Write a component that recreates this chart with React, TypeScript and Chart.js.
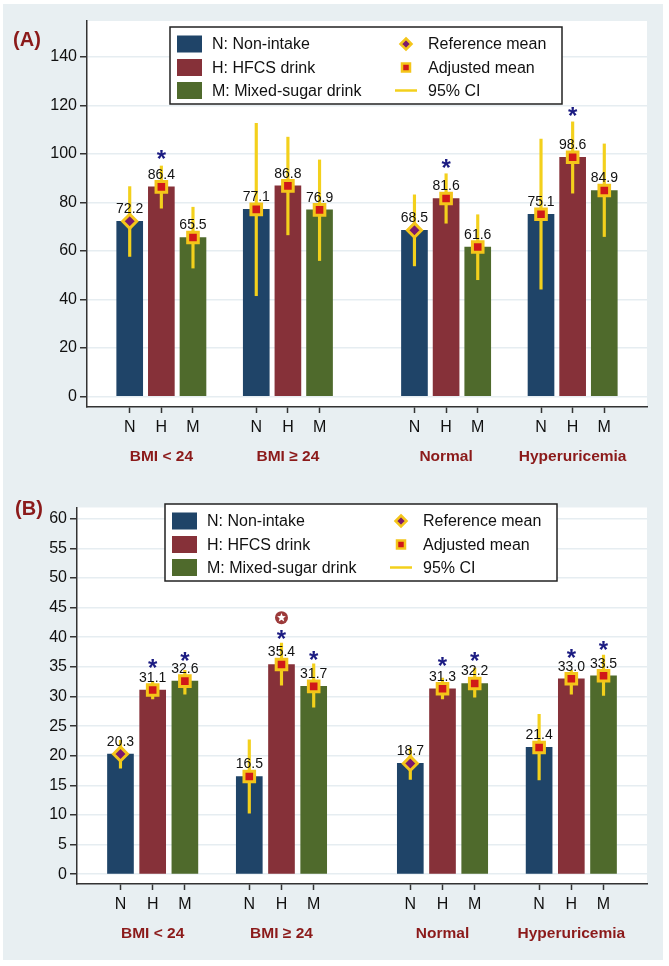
import React, { useEffect, useRef } from "react";
import { Chart, registerables } from "chart.js";

Chart.register(...registerables);
Chart.defaults.font.family = "'Liberation Sans', Arial, sans-serif";

// ---------- data ----------
const groups = ["BMI < 24", "BMI \u2265 24", "Normal", "Hyperuricemia"];
const drinkCodes = ["N", "H", "M"];
const drinkNames = ["N: Non-intake", "H: HFCS drink", "M: Mixed-sugar drink"];
const markerNames = ["Reference mean", "Adjusted mean", "95% CI"];
const groupCenters = [2, 6, 11, 15];
const refMeanGroups = [0, 2]; // groups whose N bar shows the reference mean

// Panel A
const meanA_N = [72.2, 77.1, 68.5, 75.1];
const meanA_H = [86.4, 86.8, 81.6, 98.6];
const meanA_M = [65.5, 76.9, 61.6, 84.9];
const loA_N = [57.7, 41.5, 53.8, 44.2];
const hiA_N = [86.5, 112.6, 83.1, 106.1];
const loA_H = [77.6, 66.6, 71.4, 83.8];
const hiA_H = [95.0, 106.9, 91.8, 113.2];
const loA_M = [52.9, 56.0, 48.1, 65.9];
const hiA_M = [78.0, 97.5, 74.9, 104.1];
const starA_H = [100.3, null, 96.4, 117.7];
const starA_M = [null, null, null, null];
const circleA_H = [null, null, null, null];
const yTicksA = [0, 20, 40, 60, 80, 100, 120, 140];

// Panel B
const meanB_N = [20.3, 16.5, 18.7, 21.4];
const meanB_H = [31.1, 35.4, 31.3, 33.0];
const meanB_M = [32.6, 31.7, 32.2, 33.5];
const loB_N = [17.9, 10.3, 16.0, 15.9];
const hiB_N = [22.6, 22.7, 21.3, 27.0];
const loB_H = [29.6, 31.9, 29.6, 30.4];
const hiB_H = [32.5, 39.0, 33.1, 34.4];
const loB_M = [30.4, 28.2, 29.9, 30.2];
const hiB_M = [34.4, 35.5, 34.8, 37.0];
const starB_H = [35.7, 40.6, 36.0, 37.5];
const starB_M = [37.0, 37.1, 36.9, 38.8];
const circleB_H = [null, 43.3, null, null];
const yTicksB = [0, 5, 10, 15, 20, 25, 30, 35, 40, 45, 50, 55, 60];

// ---------- styles ----------
const BAR_COLORS = ["#1f4468", "#863139", "#4f6a2c"];
const CI_COLOR = "#f3d01c";
const GOLD = "#f4c51a";
const PURPLE = "#7c1a6c";
const RED = "#d01818";
const TITLE_RED = "#8b1a1a";
const STAR_BLUE = "#1c1c82";
const FONT = "'Liberation Sans', Arial, sans-serif";

type Spec = {
  tag: string;
  means: number[][];
  lo: number[][];
  hi: number[][];
  starsH: (number | null)[];
  starsM: (number | null)[];
  circlesH: (number | null)[];
  yTicks: number[];
  yMin: number;
  yMax: number;
  width: number;
  height: number;
  padTop: number;
  padRight: number;
  yAxisWidth: number;
  xAxisHeight: number;
  legendLeft: number;
  legendTop: number;
  tagX: number;
  tagY: number;
};

const slotOf = (g: number, d: number) => groupCenters[g] + d - 1;

function drawDiamond(ctx: CanvasRenderingContext2D, x: number, y: number, r: number) {
  ctx.beginPath();
  ctx.moveTo(x, y - r);
  ctx.lineTo(x + r, y);
  ctx.lineTo(x, y + r);
  ctx.lineTo(x - r, y);
  ctx.closePath();
  ctx.fillStyle = PURPLE;
  ctx.fill();
  ctx.strokeStyle = GOLD;
  ctx.lineWidth = 2.5;
  ctx.stroke();
}

function drawSquare(ctx: CanvasRenderingContext2D, x: number, y: number, h: number) {
  ctx.fillStyle = RED;
  ctx.fillRect(x - h, y - h, 2 * h, 2 * h);
  ctx.strokeStyle = GOLD;
  ctx.lineWidth = 2.5;
  ctx.strokeRect(x - h, y - h, 2 * h, 2 * h);
}

function drawLegend(ctx: CanvasRenderingContext2D, L: number, T: number) {
  const W = 392;
  const H = 77;
  const rows = [17, 40.5, 63.5];
  ctx.save();
  ctx.fillStyle = "#ffffff";
  ctx.fillRect(L, T, W, H);
  ctx.strokeStyle = "#222222";
  ctx.lineWidth = 1.5;
  ctx.strokeRect(L, T, W, H);
  ctx.font = `16px ${FONT}`;
  ctx.textBaseline = "middle";
  ctx.textAlign = "left";
  for (let i = 0; i < 3; i++) {
    ctx.fillStyle = BAR_COLORS[i];
    ctx.fillRect(L + 7, T + rows[i] - 8.5, 25, 17);
    ctx.fillStyle = "#111111";
    ctx.fillText(drinkNames[i], L + 42, T + rows[i] + 1);
  }
  drawDiamond(ctx, L + 236, T + rows[0], 5.5);
  drawSquare(ctx, L + 236, T + rows[1], 4);
  ctx.strokeStyle = CI_COLOR;
  ctx.lineWidth = 2.5;
  ctx.beginPath();
  ctx.moveTo(L + 225, T + rows[2]);
  ctx.lineTo(L + 247, T + rows[2]);
  ctx.stroke();
  ctx.fillStyle = "#111111";
  for (let i = 0; i < 3; i++) {
    ctx.fillText(markerNames[i], L + 258, T + rows[i] + 1);
  }
  ctx.restore();
}

function makeOverlay(spec: Spec) {
  return {
    id: "overlay",
    beforeDraw(chart: any) {
      const { ctx, chartArea } = chart;
      ctx.save();
      ctx.fillStyle = "#ffffff";
      ctx.fillRect(chartArea.left, chartArea.top, chartArea.right - chartArea.left, chartArea.bottom - chartArea.top);
      ctx.restore();
    },
    afterDatasetsDraw(chart: any) {
      const { ctx } = chart;
      const xs = chart.scales.x;
      const ys = chart.scales.y;
      ctx.save();
      // value labels
      ctx.font = `14px ${FONT}`;
      ctx.fillStyle = "#111111";
      ctx.textAlign = "center";
      ctx.textBaseline = "middle";
      for (let g = 0; g < groups.length; g++) {
        for (let d = 0; d < 3; d++) {
          const v = spec.means[d][g];
          ctx.fillText(v.toFixed(1), xs.getPixelForValue(slotOf(g, d)), ys.getPixelForValue(v) - 12);
        }
      }
      // significance stars
      ctx.font = `bold 24px ${FONT}`;
      ctx.fillStyle = STAR_BLUE;
      ctx.textBaseline = "alphabetic";
      const starSets: [number, (number | null)[]][] = [
        [1, spec.starsH],
        [2, spec.starsM],
      ];
      for (const [d, arr] of starSets) {
        arr.forEach((v, g) => {
          if (v == null) return;
          ctx.fillText("*", xs.getPixelForValue(slotOf(g, d)), ys.getPixelForValue(v) + 13.5);
        });
      }
      // circled stars
      spec.circlesH.forEach((v, g) => {
        if (v == null) return;
        const cx = xs.getPixelForValue(slotOf(g, 1));
        const cy = ys.getPixelForValue(v);
        ctx.beginPath();
        ctx.arc(cx, cy, 6.5, 0, Math.PI * 2);
        ctx.fillStyle = "#9c3a3a";
        ctx.fill();
        ctx.beginPath();
        for (let k = 0; k < 10; k++) {
          const r = k % 2 === 0 ? 4.6 : 2.0;
          const a = -Math.PI / 2 + (k * Math.PI) / 5;
          const px = cx + r * Math.cos(a);
          const py = cy + r * Math.sin(a);
          if (k === 0) ctx.moveTo(px, py);
          else ctx.lineTo(px, py);
        }
        ctx.closePath();
        ctx.fillStyle = "#ffffff";
        ctx.fill();
      });
      ctx.restore();
    },
    afterDraw(chart: any) {
      const { ctx, chartArea } = chart;
      const xs = chart.scales.x;
      ctx.save();
      // group labels
      ctx.font = `bold 15.5px ${FONT}`;
      ctx.fillStyle = TITLE_RED;
      ctx.textAlign = "center";
      ctx.textBaseline = "middle";
      groups.forEach((name, g) => {
        ctx.fillText(name, xs.getPixelForValue(groupCenters[g]), chartArea.bottom + 50);
      });
      // panel tag
      ctx.font = `bold 20px ${FONT}`;
      ctx.fillText(spec.tag, spec.tagX, spec.tagY);
      ctx.restore();
      drawLegend(ctx, spec.legendLeft, spec.legendTop);
    },
  };
}

function buildConfig(spec: Spec): any {
  const slots: number[] = [];
  const slotLabel: Record<string, string> = {};
  groups.forEach((_, g) => {
    for (let d = 0; d < 3; d++) {
      const s = slotOf(g, d);
      slots.push(s);
      slotLabel[String(s)] = drinkCodes[d];
    }
  });

  const refPts: any[] = [];
  const adjPts: any[] = [];
  const ciPts: any[] = [];
  for (let g = 0; g < groups.length; g++) {
    for (let d = 0; d < 3; d++) {
      const pt = { x: slotOf(g, d), y: spec.means[d][g] };
      if (d === 0 && refMeanGroups.includes(g)) refPts.push(pt);
      else adjPts.push(pt);
      ciPts.push({ x: slotOf(g, d), y: [spec.lo[d][g], spec.hi[d][g]] });
    }
  }

  const barSets = [0, 1, 2].map((d) => ({
    type: "bar",
    label: drinkNames[d],
    data: spec.means[d].map((v, g) => ({ x: slotOf(g, d), y: v })),
    backgroundColor: BAR_COLORS[d],
    barThickness: 26,
    grouped: false,
    order: 3,
  }));

  return {
    type: "bar",
    data: {
      datasets: [
        {
          type: "scatter",
          label: "Reference mean",
          data: refPts,
          pointStyle: "rectRot",
          pointRadius: 7,
          backgroundColor: PURPLE,
          borderColor: GOLD,
          borderWidth: 3,
          order: 0,
        },
        {
          type: "scatter",
          label: "Adjusted mean",
          data: adjPts,
          pointStyle: "rect",
          pointRadius: 7.5,
          backgroundColor: RED,
          borderColor: GOLD,
          borderWidth: 3,
          order: 0,
        },
        {
          type: "bar",
          label: "95% CI",
          data: ciPts,
          backgroundColor: CI_COLOR,
          barThickness: 2.5,
          grouped: false,
          order: 1,
        },
        ...barSets,
      ],
    },
    options: {
      responsive: false,
      animation: false,
      devicePixelRatio: 1,
      layout: { padding: { top: spec.padTop, right: spec.padRight, left: 0, bottom: 0 } },
      plugins: { legend: { display: false }, tooltip: { enabled: false } },
      scales: {
        x: {
          type: "linear",
          min: -0.35,
          max: 17.35,
          offset: false,
          grid: {
            display: true,
            drawOnChartArea: false,
            drawTicks: true,
            tickLength: 6,
            tickColor: "#333333",
            tickWidth: 1.5,
            offset: false,
          },
          border: { display: true, color: "#333333", width: 1.5 },
          ticks: {
            autoSkip: false,
            maxRotation: 0,
            minRotation: 0,
            padding: 5,
            color: "#111111",
            font: { size: 16 },
            callback: (v: any) => slotLabel[String(v)] ?? "",
          },
          afterBuildTicks: (axis: any) => {
            axis.ticks = slots.map((v) => ({ value: v }));
          },
          afterFit: (axis: any) => {
            axis.height = spec.xAxisHeight;
            axis.paddingLeft = 0;
            axis.paddingRight = 0;
          },
        },
        y: {
          type: "linear",
          min: spec.yMin,
          max: spec.yMax,
          grid: {
            color: "#e6edf1",
            lineWidth: 1.5,
            tickColor: "#333333",
            tickLength: 7,
            tickWidth: 1.5,
          },
          border: { display: true, color: "#333333", width: 1.5 },
          ticks: { padding: 3, color: "#111111", font: { size: 16 } },
          afterBuildTicks: (axis: any) => {
            axis.ticks = spec.yTicks.map((v) => ({ value: v }));
          },
          afterFit: (axis: any) => {
            axis.width = spec.yAxisWidth;
            axis.paddingTop = 0;
            axis.paddingBottom = 0;
          },
        },
      },
    },
    plugins: [makeOverlay(spec)],
  };
}

const specA: Spec = {
  tag: "(A)",
  means: [meanA_N, meanA_H, meanA_M],
  lo: [loA_N, loA_H, loA_M],
  hi: [hiA_N, hiA_H, hiA_M],
  starsH: starA_H,
  starsM: starA_M,
  circlesH: circleA_H,
  yTicks: yTicksA,
  yMin: -4.4,
  yMax: 154.8,
  width: 660,
  height: 493,
  padTop: 17,
  padRight: 16,
  yAxisWidth: 84,
  xAxisHeight: 90,
  legendLeft: 167,
  legendTop: 23,
  tagX: 24,
  tagY: 36,
};

const specB: Spec = {
  tag: "(B)",
  means: [meanB_N, meanB_H, meanB_M],
  lo: [loB_N, loB_H, loB_M],
  hi: [hiB_N, hiB_H, hiB_M],
  starsH: starB_H,
  starsM: starB_M,
  circlesH: circleB_H,
  yTicks: yTicksB,
  yMin: -1.65,
  yMax: 61.9,
  width: 660,
  height: 463,
  padTop: 1,
  padRight: 16,
  yAxisWidth: 74,
  xAxisHeight: 76,
  legendLeft: 162,
  legendTop: 7,
  tagX: 26,
  tagY: 12,
};

function Panel({ spec, top }: { spec: Spec; top: number }) {
  const ref = useRef<HTMLCanvasElement | null>(null);
  useEffect(() => {
    if (!ref.current) return;
    const chart = new Chart(ref.current, buildConfig(spec));
    return () => chart.destroy();
  }, [spec]);
  return (
    <canvas
      ref={ref}
      width={spec.width}
      height={spec.height}
      style={{ position: "absolute", left: 3, top, width: spec.width, height: spec.height }}
    />
  );
}

export default function App() {
  return (
    <div style={{ position: "absolute", left: 0, top: 0, width: 669, height: 966, background: "#ffffff" }}>
      <div style={{ position: "absolute", left: 3, top: 4, width: 660, height: 956, background: "#e8eff2" }} />
      <Panel spec={specA} top={4} />
      <Panel spec={specB} top={497} />
    </div>
  );
}
